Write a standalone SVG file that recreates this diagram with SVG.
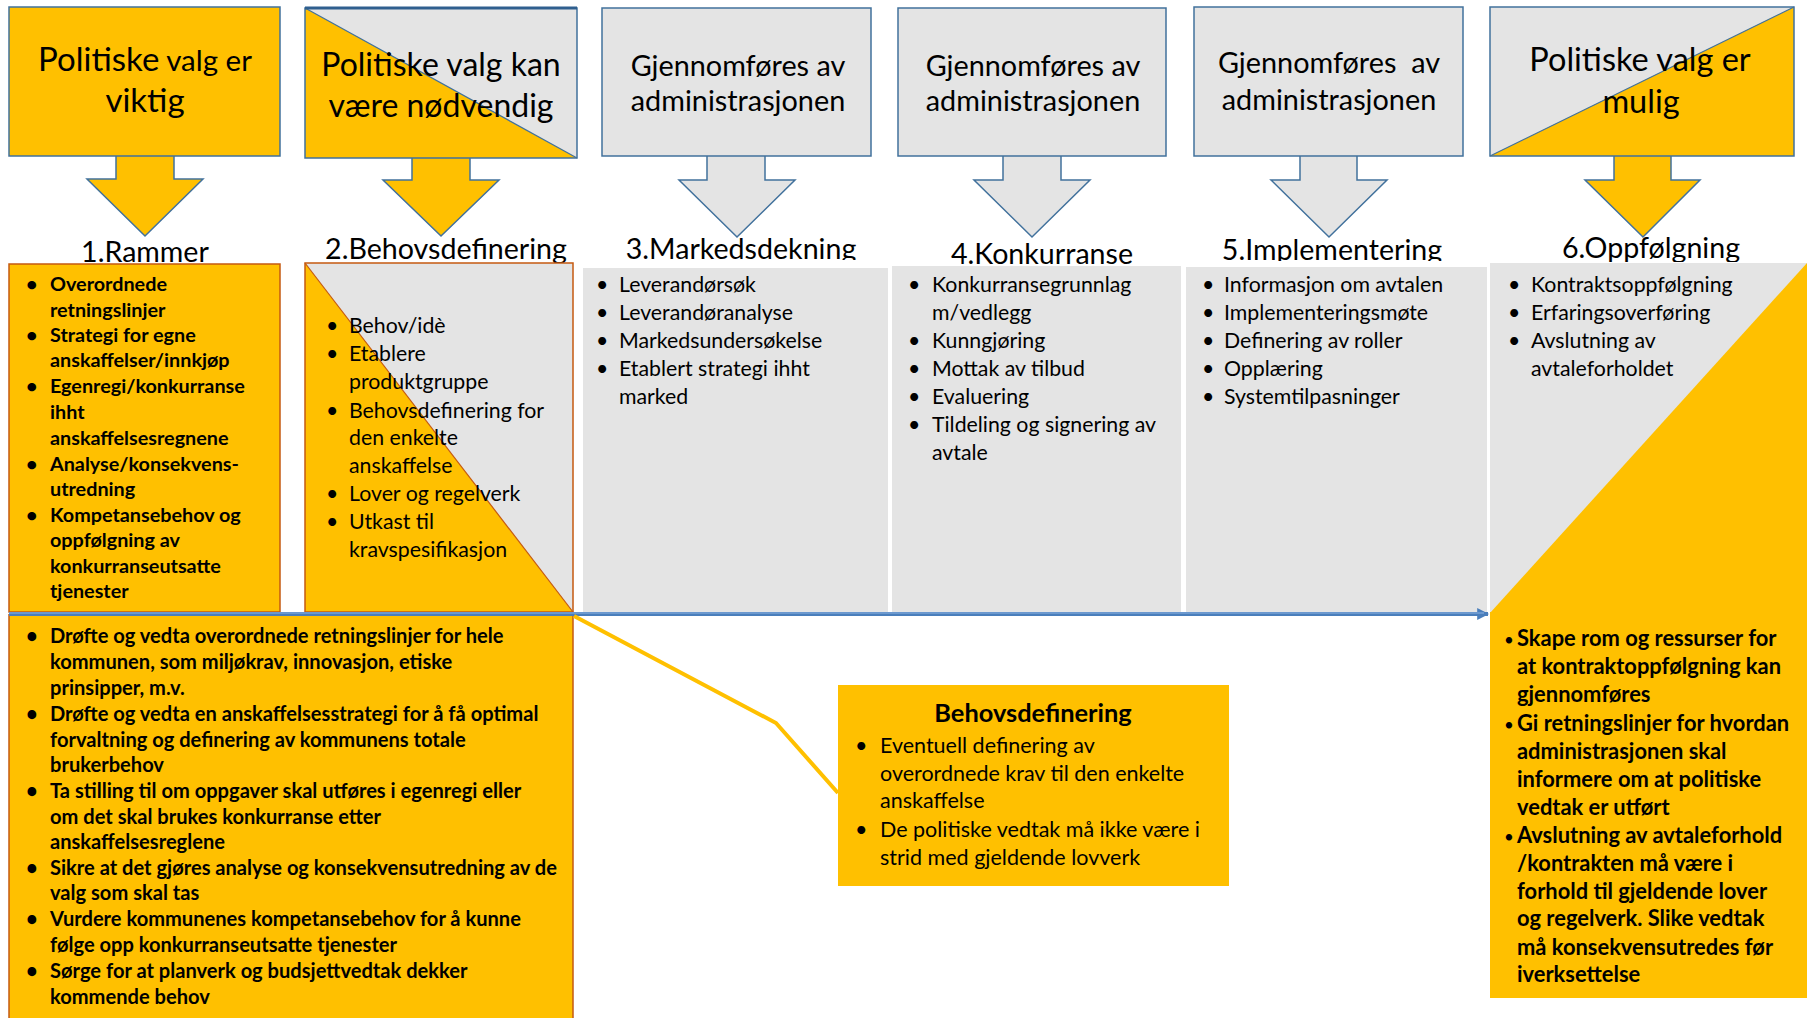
<svg xmlns="http://www.w3.org/2000/svg" width="1807" height="1018" viewBox="0 0 1807 1018">
<defs>
  <style>
    .t{font-family:Lato,"Liberation Sans",sans-serif;fill:#000}
    .hd{font-size:28.8px}
    .lb{font-size:28.6px}
    .rg{font-size:21.3px}
    .bd{font-size:19.8px;font-weight:bold}
    .bd0{font-size:20.1px;font-weight:bold}
    .bd2{font-size:21.9px;font-weight:bold}
    .bul{font-size:17px;font-weight:normal}
    .co{font-size:21.5px}
    .cot{font-size:25.4px;font-weight:bold}
    .box{stroke:#41719C;stroke-width:1.5}
    .yel{fill:#FFC000}
    .gry{fill:#E4E4E4}
    .org{stroke:#C55A11;stroke-width:1.5}
  </style>
  <marker id="ah" viewBox="0 0 10 10" refX="9" refY="5" markerWidth="3" markerHeight="3" orient="auto" markerUnits="strokeWidth">
    <path d="M0,0 L10,5 L0,10 z" fill="#4A7EBB"/>
  </marker>
  <clipPath id="c1"><rect x="0" y="230" width="1807" height="34"/></clipPath>
  <clipPath id="c2"><rect x="0" y="230" width="1807" height="33"/></clipPath>
  <clipPath id="c3"><rect x="0" y="230" width="1807" height="30"/></clipPath>
  <clipPath id="c4"><rect x="0" y="230" width="1807" height="36"/></clipPath>
  <clipPath id="c5"><rect x="0" y="230" width="1807" height="31"/></clipPath>
  <clipPath id="c6"><rect x="0" y="230" width="1807" height="32"/></clipPath>
</defs>
<rect width="1807" height="1018" fill="#fff"/>

<!-- Top header boxes with down arrows -->
<g id="head1">
  <path class="box yel" d="M116,155 V179 H87 L145,236 L203,179 H174 V155 Z"/>
  <rect class="box yel" x="9" y="7" width="271" height="149"/>
  <text class="t" text-anchor="middle" x="145" y="71"><tspan font-size="33">Politiske</tspan><tspan font-size="29.5"> valg er</tspan></text>
  <text class="t" text-anchor="middle" x="145" y="112" font-size="33">viktig</text>
</g>
<g id="head2">
  <path class="box yel" d="M412,157 V180 H383 L441,236 L499,180 H470 V157 Z"/>
  <rect class="gry" x="305" y="8" width="272" height="150"/>
  <polygon class="yel" points="305,8 577,158 305,158"/>
  <line x1="305" y1="8" x2="577" y2="158" stroke="#41719C" stroke-width="1.2"/>
  <rect x="305" y="8" width="272" height="150" fill="none" class="box"/>
  <line x1="305" y1="8" x2="577" y2="8" stroke="#2F5F8F" stroke-width="3"/>
  <text class="t" text-anchor="middle" x="441" y="76" font-size="32">Politiske valg kan</text>
  <text class="t" text-anchor="middle" x="441" y="117" font-size="32">være nødvendig</text>
</g>
<g id="head3">
  <path class="box gry" d="M707,155 V180 H679 L737,237 L795,180 H765 V155 Z"/>
  <rect class="box gry" x="602" y="8" width="269" height="148"/>
  <text class="t hd" text-anchor="middle" x="738" y="76">Gjennomføres av</text>
  <text class="t hd" text-anchor="middle" x="738" y="111">administrasjonen</text>
</g>
<g id="head4">
  <path class="box gry" d="M1003,155 V180 H974 L1032,237 L1090,180 H1061 V155 Z"/>
  <rect class="box gry" x="898" y="8" width="268" height="148"/>
  <text class="t hd" text-anchor="middle" x="1033" y="76">Gjennomføres av</text>
  <text class="t hd" text-anchor="middle" x="1033" y="111">administrasjonen</text>
</g>
<g id="head5">
  <path class="box gry" d="M1300,155 V180 H1271 L1329,237 L1387,180 H1357 V155 Z"/>
  <rect class="box gry" x="1194" y="7" width="269" height="149"/>
  <text class="t hd" text-anchor="middle" x="1329" y="73" xml:space="preserve">Gjennomføres  av</text>
  <text class="t hd" text-anchor="middle" x="1329" y="110">administrasjonen</text>
</g>
<g id="head6">
  <path class="box yel" d="M1614,155 V180 H1585 L1643,237 L1700,180 H1671 V155 Z"/>
  <rect class="gry" x="1490" y="7" width="304" height="149"/>
  <polygon class="yel" points="1490,156 1794,7 1794,156"/>
  <line x1="1490" y1="156" x2="1794" y2="7" stroke="#41719C" stroke-width="1.2"/>
  <rect x="1490" y="7" width="304" height="149" fill="none" class="box"/>
  <text class="t" text-anchor="middle" x="1640" y="71" font-size="32.5">Politiske valg er</text>
  <text class="t" text-anchor="middle" x="1641" y="113" font-size="32.5">mulig</text>
</g>

<!-- Stage labels -->
<g id="label1"><text class="t lb" text-anchor="middle" x="145" y="262" clip-path="url(#c1)">1.Rammer</text></g>
<g id="label2"><text class="t lb" text-anchor="middle" x="446" y="259" clip-path="url(#c2)">2.Behovsdefinering</text></g>
<g id="label3"><text class="t lb" text-anchor="middle" x="741" y="259" clip-path="url(#c3)">3.Markedsdekning</text></g>
<g id="label4"><text class="t lb" text-anchor="middle" x="1042" y="264" clip-path="url(#c4)">4.Konkurranse</text></g>
<g id="label5"><text class="t lb" text-anchor="middle" x="1332" y="260" clip-path="url(#c5)">5.Implementering</text></g>
<g id="label6"><text class="t lb" text-anchor="middle" x="1651" y="258" clip-path="url(#c6)" font-size="30">6.Oppfølgning</text></g>

<!-- Stage panels -->
<g id="panel1">
  <rect class="yel org" x="9" y="264" width="271" height="348"/>
  <g class="t bd">
    <text x="26" y="291">•</text><text x="50" y="291">Overordnede</text>
    <text x="50" y="317">retningslinjer</text>
    <text x="26" y="342">•</text><text x="50" y="342">Strategi for egne</text>
    <text x="50" y="367">anskaffelser/innkjøp</text>
    <text x="26" y="393">•</text><text x="50" y="393">Egenregi/konkurranse</text>
    <text x="50" y="419">ihht</text>
    <text x="50" y="445">anskaffelsesregnene</text>
    <text x="26" y="471">•</text><text x="50" y="471">Analyse/konsekvens-</text>
    <text x="50" y="496">utredning</text>
    <text x="26" y="522">•</text><text x="50" y="522">Kompetansebehov og</text>
    <text x="50" y="547">oppfølgning av</text>
    <text x="50" y="573">konkurranseutsatte</text>
    <text x="50" y="598">tjenester</text>
  </g>
</g>
<g id="panel2">
  <rect class="yel" x="305" y="263" width="268" height="349"/>
  <polygon class="gry" points="305,263 573,263 573,612"/>
  <line x1="305" y1="263" x2="573" y2="612" stroke="#C55A11" stroke-width="1.2"/>
  <rect class="org" fill="none" x="305" y="263" width="268" height="349"/>
  <g class="t rg">
    <text x="326" y="333">•</text><text x="349" y="333">Behov/idè</text>
    <text x="326" y="361">•</text><text x="349" y="361">Etablere</text>
    <text x="349" y="389">produktgruppe</text>
    <text x="326" y="418">•</text><text x="349" y="418">Behovsdefinering for</text>
    <text x="349" y="445">den enkelte</text>
    <text x="349" y="473">anskaffelse</text>
    <text x="326" y="501">•</text><text x="349" y="501">Lover og regelverk</text>
    <text x="326" y="529">•</text><text x="349" y="529">Utkast til</text>
    <text x="349" y="557">kravspesifikasjon</text>
  </g>
</g>
<g id="panel3">
  <rect class="gry" x="583" y="268" width="305" height="344"/>
  <g class="t rg">
    <text x="596" y="292">•</text><text x="619" y="292">Leverandørsøk</text>
    <text x="596" y="320">•</text><text x="619" y="320">Leverandøranalyse</text>
    <text x="596" y="348">•</text><text x="619" y="348">Markedsundersøkelse</text>
    <text x="596" y="376">•</text><text x="619" y="376">Etablert strategi ihht</text>
    <text x="619" y="404">marked</text>
  </g>
</g>
<g id="panel4">
  <rect class="gry" x="892" y="266" width="289" height="346"/>
  <g class="t rg">
    <text x="908" y="292">•</text><text x="932" y="292">Konkurransegrunnlag</text>
    <text x="932" y="320">m/vedlegg</text>
    <text x="908" y="348">•</text><text x="932" y="348">Kunngjøring</text>
    <text x="908" y="376">•</text><text x="932" y="376">Mottak av tilbud</text>
    <text x="908" y="404">•</text><text x="932" y="404">Evaluering</text>
    <text x="908" y="432">•</text><text x="932" y="432">Tildeling og signering av</text>
    <text x="932" y="460">avtale</text>
  </g>
</g>
<g id="panel5">
  <rect class="gry" x="1186" y="267" width="301" height="345"/>
  <g class="t rg">
    <text x="1202" y="292">•</text><text x="1224" y="292">Informasjon om avtalen</text>
    <text x="1202" y="320">•</text><text x="1224" y="320">Implementeringsmøte</text>
    <text x="1202" y="348">•</text><text x="1224" y="348">Definering av roller</text>
    <text x="1202" y="376">•</text><text x="1224" y="376">Opplæring</text>
    <text x="1202" y="404">•</text><text x="1224" y="404">Systemtilpasninger</text>
  </g>
</g>
<g id="panel6">
  <rect class="gry" x="1490" y="263" width="317" height="349"/>
  <polygon class="yel" points="1490,613 1807,263 1807,613"/>
  <g class="t rg">
    <text x="1508" y="292">•</text><text x="1531" y="292">Kontraktsoppfølgning</text>
    <text x="1508" y="320">•</text><text x="1531" y="320">Erfaringsoverføring</text>
    <text x="1508" y="348">•</text><text x="1531" y="348">Avslutning av</text>
    <text x="1531" y="376">avtaleforholdet</text>
  </g>
</g>

<!-- Political role panels -->
<g id="politicalLeft">
  <rect class="yel" x="9" y="614" width="564" height="410"/>
  <line class="org" x1="9" y1="614" x2="9" y2="1018"/>
  <line class="org" x1="573" y1="614" x2="573" y2="1018"/>
  <g class="t bd0">
    <text x="26" y="643">•</text><text x="50" y="643">Drøfte og vedta overordnede retningslinjer for hele</text>
    <text x="50" y="669">kommunen, som miljøkrav, innovasjon, etiske</text>
    <text x="50" y="695">prinsipper, m.v.</text>
    <text x="26" y="721">•</text><text x="50" y="721">Drøfte og vedta en anskaffelsesstrategi for å få optimal</text>
    <text x="50" y="747">forvaltning og definering av kommunens totale</text>
    <text x="50" y="772">brukerbehov</text>
    <text x="26" y="798">•</text><text x="50" y="798">Ta stilling til om oppgaver skal utføres i egenregi eller</text>
    <text x="50" y="824">om det skal brukes konkurranse etter</text>
    <text x="50" y="849">anskaffelsesreglene</text>
    <text x="26" y="875">•</text><text x="50" y="875">Sikre at det gjøres analyse og konsekvensutredning av de</text>
    <text x="50" y="900">valg som skal tas</text>
    <text x="26" y="926">•</text><text x="50" y="926">Vurdere kommunenes kompetansebehov for å kunne</text>
    <text x="50" y="952">følge opp konkurranseutsatte tjenester</text>
    <text x="26" y="978">•</text><text x="50" y="978">Sørge for at planverk og budsjettvedtak dekker</text>
    <text x="50" y="1004">kommende behov</text>
  </g>
</g>
<g id="politicalRight">
  <rect class="yel" x="1490" y="612" width="317" height="386"/>
  <g class="t bd2">
    <text class="bul" x="1504" y="646">•</text><text x="1517" y="646">Skape rom og ressurser for</text>
    <text x="1517" y="674">at kontraktoppfølgning kan</text>
    <text x="1517" y="702">gjennomføres</text>
    <text class="bul" x="1504" y="731">•</text><text x="1517" y="731">Gi retningslinjer for hvordan</text>
    <text x="1517" y="759">administrasjonen skal</text>
    <text x="1517" y="787">informere om at politiske</text>
    <text x="1517" y="815">vedtak er utført</text>
    <text class="bul" x="1504" y="843">•</text><text x="1517" y="843">Avslutning av avtaleforhold</text>
    <text x="1517" y="871">/kontrakten må være i</text>
    <text x="1517" y="899">forhold til gjeldende lover</text>
    <text x="1517" y="926">og regelverk. Slike vedtak</text>
    <text x="1517" y="955">må konsekvensutredes før</text>
    <text x="1517" y="982">iverksettelse</text>
  </g>
</g>
<g id="callout">
  <rect class="yel" x="838" y="685" width="391" height="201"/>
  <text class="t cot" text-anchor="middle" x="1033" y="722">Behovsdefinering</text>
  <g class="t co">
    <text x="855" y="753">•</text><text x="880" y="753">Eventuell definering av</text>
    <text x="880" y="781">overordnede krav til den enkelte</text>
    <text x="880" y="808">anskaffelse</text>
    <text x="855" y="837">•</text><text x="880" y="837">De politiske vedtak må ikke være i</text>
    <text x="880" y="865">strid med gjeldende lovverk</text>
  </g>
</g>

<!-- Connectors -->
<g id="connectors" fill="none">
  <line x1="9" y1="614" x2="1488" y2="614" stroke="#4A7EBB" stroke-width="4" marker-end="url(#ah)"/>
  <line x1="9" y1="613" x2="1484" y2="613" stroke="#8DB3E2" stroke-width="1"/>
  <polyline points="574,616 776,723 838,793" stroke="#FFC000" stroke-width="4" stroke-linejoin="miter"/>
</g>
</svg>
